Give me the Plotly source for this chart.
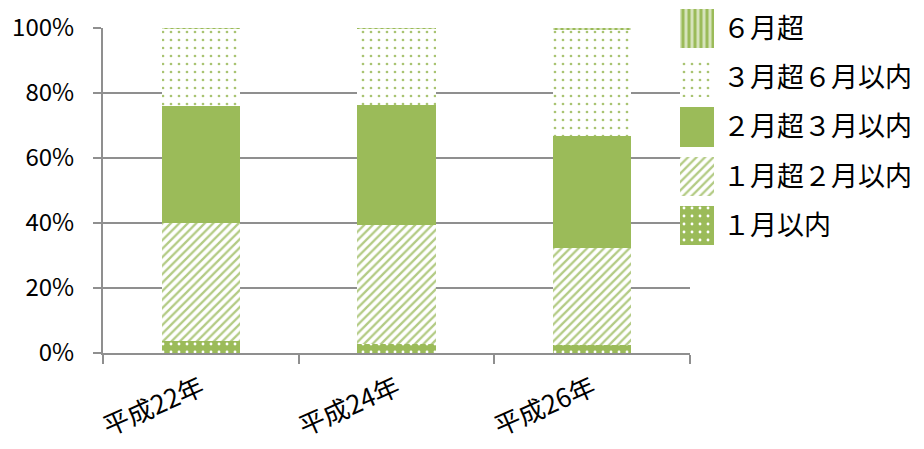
import plotly.graph_objects as go

# Survey years (categories)
years = ["平成22年", "平成24年", "平成26年"]

# Legend / series names, bottom of the stack first
series = ["１月以内", "１月超２月以内", "２月超３月以内", "３月超６月以内", "６月超"]

# Share of each duration band (%)
within_1m = [3.8, 2.7, 2.5]
m1_to_m2 = [36.3, 36.7, 29.8]
m2_to_m3 = [36.0, 36.8, 34.6]
m3_to_m6 = [23.6, 23.5, 32.7]
over_6m = [0.3, 0.3, 0.4]

y_tick_values = [0, 20, 40, 60, 80, 100]
y_tick_labels = ["0%", "20%", "40%", "60%", "80%", "100%"]

W, H = 924, 449
GREEN = "#9BBB59"
GRID = "#8f8f8f"
FONT = "Noto Sans CJK JP"

values = [within_1m, m1_to_m2, m2_to_m3, m3_to_m6, over_6m]

patterns = [
    dict(shape=".", bgcolor=GREEN, fgcolor="#ffffff", size=8, solidity=0.1),
    dict(shape="/", bgcolor="#ffffff", fgcolor="#b3cb84", size=6, solidity=0.38),
    dict(shape="", bgcolor=GREEN, fgcolor=GREEN),
    dict(shape=".", bgcolor="#ffffff", fgcolor="#a9c472", size=8, solidity=0.09),
    dict(shape="|", bgcolor="#d6e3bb", fgcolor=GREEN, size=6, solidity=0.5),
]

fig = go.Figure()

# Stacked bars
for name, vals, pat in zip(series, values, patterns):
    fig.add_trace(go.Bar(
        x=years, y=vals, name=name, width=0.4,
        marker=dict(color=GREEN, line=dict(width=0), pattern=pat),
        showlegend=False, xaxis="x", yaxis="y",
    ))

# Legend swatches on their own small axis pair
for name, pat in zip(series, patterns):
    fig.add_trace(go.Bar(
        x=[1], y=[name], orientation="h", width=0.8,
        marker=dict(color=GREEN, line=dict(width=0), pattern=pat),
        showlegend=False, xaxis="x2", yaxis="y2", hoverinfo="skip",
    ))

px_x = lambda p: p / W
px_y = lambda p: 1 - p / H

fig.update_layout(
    width=W, height=H,
    template="none",
    barmode="stack",
    margin=dict(l=0, r=0, t=0, b=0),
    paper_bgcolor="white", plot_bgcolor="rgba(0,0,0,0)",
    font=dict(family=FONT, size=22, color="#000000"),
    xaxis=dict(
        domain=[px_x(103), px_x(690)], anchor="y",
        type="category", categoryarray=years, range=[-0.5, 2.5],
        tickson="boundaries", ticks="outside", ticklen=9, tickwidth=2, tickcolor=GRID,
        showline=True, linecolor=GRID, linewidth=2,
        showgrid=False, zeroline=False, automargin=False,
        tickangle=-24, tickfont=dict(family=FONT, size=26, color="#000000"),
        ticklabelstandoff=8,
    ),
    yaxis=dict(
        domain=[px_y(353), px_y(28)], anchor="x",
        range=[0, 100], tickmode="array",
        tickvals=y_tick_values, ticktext=y_tick_labels,
        ticks="outside", ticklen=8, tickwidth=2, tickcolor=GRID,
        showline=True, linecolor=GRID, linewidth=2,
        showgrid=True, gridcolor=GRID, gridwidth=2, zeroline=False,
        automargin=False, tickfont=dict(family=FONT, size=24, color="#000000"),
        ticklabelstandoff=14,
    ),
    xaxis2=dict(
        domain=[px_x(680), px_x(714)], anchor="y2", range=[0, 1],
        visible=False, fixedrange=True,
    ),
    yaxis2=dict(
        domain=[px_y(250), px_y(4)], anchor="x2", side="right",
        type="category", categoryarray=series, range=[-0.5, 4.5],
        showgrid=False, showline=False, zeroline=False, ticks="",
        automargin=False, fixedrange=True,
        tickfont=dict(family=FONT, size=27, color="#000000"),
        ticklabelstandoff=8,
    ),
)

# White backing behind the legend so gridlines stop at its edge
fig.add_shape(type="rect", xref="paper", yref="paper",
              x0=px_x(679), x1=1, y0=px_y(260), y1=1,
              fillcolor="white", line=dict(width=0), layer="below")

fig.write_html("out.html")
